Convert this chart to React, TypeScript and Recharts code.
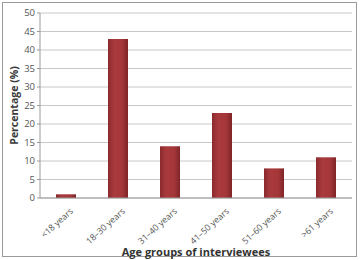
import React from "react";
import { BarChart, Bar, XAxis, YAxis, CartesianGrid, Label } from "recharts";

// Age groups and percentage of interviewees
const ageGroups = ["<18 years", "18–30 years", "31–40 years", "41–50 years", "51–60 years", ">61 years"];
const percentages = [1, 43, 14, 23, 8, 11];
const yTicks = [0, 5, 10, 15, 20, 25, 30, 35, 40, 45, 50];

const data = ageGroups.map((group, i) => ({ group, value: percentages[i] }));

const FONT = "'Open Sans', 'Liberation Sans', sans-serif";

const AngledTick = (props: any) => {
    const { x, y, payload } = props;
    return (
        <g transform={`translate(${x + 5},${y + 3})`}>
            <text
                x={0}
                y={0}
                dy={4}
                textAnchor="end"
                transform="rotate(-42)"
                fontSize={8.8}
                fill="#555"
                fontFamily={FONT}
            >
                {payload.value}
            </text>
        </g>
    );
};

const App = () => {
    return (
        <div style={{ position: "relative", width: 361, height: 260 }}>
            <style>{"body { margin: 0; }"}</style>
            <div
                style={{
                    position: "absolute",
                    left: 2,
                    top: 2,
                    width: 355,
                    height: 255,
                    border: "1px solid #9a9a9a",
                    boxSizing: "border-box",
                }}
            />
            <BarChart
                width={361}
                height={260}
                data={data}
                margin={{ top: 13, right: 9, bottom: 0, left: 0 }}
                style={{ position: "absolute", left: 0, top: 0 }}
            >
                <defs>
                    <linearGradient id="barFill" x1="0" y1="0" x2="1" y2="0">
                        <stop offset="0%" stopColor="#8a2a2e" />
                        <stop offset="30%" stopColor="#a83a3d" />
                        <stop offset="70%" stopColor="#a53739" />
                        <stop offset="100%" stopColor="#7e2428" />
                    </linearGradient>
                </defs>
                <CartesianGrid vertical={false} stroke="#c8c8c8" />
                <XAxis
                    dataKey="group"
                    interval={0}
                    tick={<AngledTick />}
                    tickLine={false}
                    axisLine={{ stroke: "#9a9a9a" }}
                    height={62}
                >
                    <Label
                        value="Age groups of interviewees"
                        position="insideBottom"
                        offset={4}
                        style={{ fontFamily: FONT, fontSize: 11, fontWeight: 700, fill: "#333" }}
                    />
                </XAxis>
                <YAxis
                    domain={[0, 50]}
                    ticks={yTicks}
                    interval={0}
                    width={40}
                    tickSize={3}
                    tickLine={{ stroke: "#9a9a9a" }}
                    axisLine={{ stroke: "#9a9a9a" }}
                    tick={{ fontSize: 9.5, fill: "#555", fontFamily: FONT }}
                >
                    <Label
                        value="Percentage (%)"
                        angle={-90}
                        position="insideLeft"
                        offset={0}
                        dx={14}
                        style={{ textAnchor: "middle", fontFamily: FONT, fontSize: 10.5, fontWeight: 700, fill: "#3a3a3a" }}
                    />
                </YAxis>
                <Bar dataKey="value" fill="url(#barFill)" barSize={20} isAnimationActive={false} />
            </BarChart>
        </div>
    );
};

export default App;
